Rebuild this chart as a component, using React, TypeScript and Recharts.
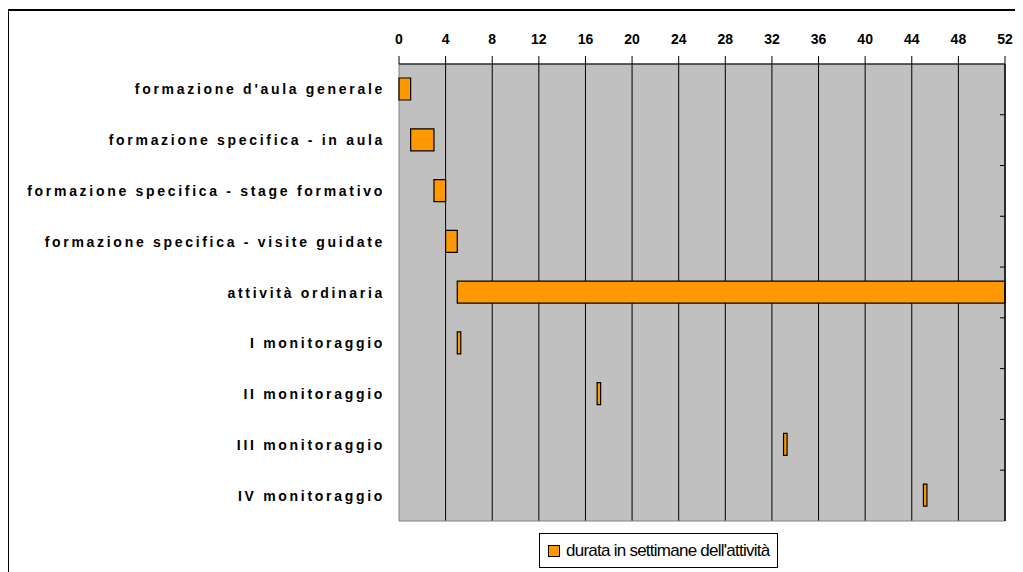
import React from "react";
import {
  BarChart,
  Bar,
  XAxis,
  YAxis,
  CartesianGrid,
  ReferenceLine,
  ReferenceArea,
  Legend,
} from "recharts";

const categories = [
  "formazione d'aula generale",
  "formazione specifica - in aula",
  "formazione specifica - stage formativo",
  "formazione specifica - visite guidate",
  "attività ordinaria",
  "I monitoraggio",
  "II monitoraggio",
  "III monitoraggio",
  "IV monitoraggio",
];

// settimana di inizio e durata (in settimane)
const startWeek = [0, 1, 3, 4, 5, 5, 17, 33, 45];
const durationWeeks = [1, 2, 1, 1, 47, 0.3, 0.3, 0.3, 0.3];

const weekTicks = [0, 4, 8, 12, 16, 20, 24, 28, 32, 36, 40, 44, 48, 52];
const gridWeeks = [4, 8, 12, 16, 20, 24, 28, 32, 36, 40, 44, 48];

const legendLabel = "durata in settimane dell'attività";

const W = 1023;
const H = 572;
const PLOT_LEFT = 399;
const PLOT_RIGHT = 1005;
const PLOT_TOP = 64;
const PLOT_BOTTOM = 520;
const LEGEND_H = 36;
const HALF_BAND = (PLOT_BOTTOM - PLOT_TOP) / categories.length / 2;

const FONT = "'Liberation Sans', Arial, Helvetica, sans-serif";
const ORANGE = "#FF9900";

const data = categories.map((name, i) => ({
  name,
  start: startWeek[i],
  dur: durationWeeks[i],
}));

const CategoryTick = (props: any) => {
  const { x, y, payload, index } = props;
  return (
    <g>
      <text
        x={x}
        y={y}
        textAnchor="end"
        dominantBaseline="central"
        fontFamily={FONT}
        fontWeight="bold"
        fontSize={14}
        letterSpacing={2.7}
        fill="#000"
      >
        {payload.value}
      </text>
      {index < categories.length - 1 && (
        <line
          x1={PLOT_RIGHT - 5}
          x2={PLOT_RIGHT}
          y1={y + HALF_BAND}
          y2={y + HALF_BAND}
          stroke="#000"
        />
      )}
    </g>
  );
};

const renderLegend = () => (
  <div
    style={{
      boxSizing: "border-box",
      width: 239,
      height: 35,
      border: "1px solid #000",
      background: "#fff",
      display: "flex",
      alignItems: "center",
      paddingLeft: 8,
      fontFamily: FONT,
      fontSize: 17,
      letterSpacing: -0.75,
      color: "#000",
      whiteSpace: "nowrap",
    }}
  >
    <span
      style={{
        display: "inline-block",
        flexShrink: 0,
        boxSizing: "border-box",
        width: 12,
        height: 12,
        background: ORANGE,
        border: "1px solid #000",
        marginRight: 6,
      }}
    />
    {legendLabel}
  </div>
);

export default function App() {
  return (
    <div
      style={{
        position: "relative",
        width: W,
        height: H,
        margin: "-8px 0 0 -8px",
        background: "#fff",
        overflow: "hidden",
      }}
    >
      <div
        style={{
          position: "absolute",
          left: 7,
          top: 9,
          width: W,
          height: H,
          borderLeft: "2px solid #000",
          borderTop: "2px solid #000",
        }}
      />
      <div style={{ position: "absolute", left: 0, top: 0 }}>
        <BarChart
          width={W}
          height={H}
          data={data}
          layout="vertical"
          margin={{
            top: 0,
            right: W - PLOT_RIGHT,
            bottom: H - PLOT_BOTTOM - LEGEND_H,
            left: 0,
          }}
          barSize={22}
        >
          <CartesianGrid
            horizontal={false}
            vertical
            verticalValues={gridWeeks}
            stroke="#000"
            fill="#C0C0C0"
            fillOpacity={1}
          />
          <ReferenceArea
            x1={0}
            x2={52}
            fill="none"
            stroke="#808080"
            strokeWidth={1}
            ifOverflow="visible"
          />
          <XAxis
            type="number"
            orientation="top"
            domain={[0, 52]}
            ticks={weekTicks}
            interval={0}
            height={PLOT_TOP}
            tickSize={8}
            tickMargin={12}
            axisLine={{ stroke: "#000" }}
            tickLine={{ stroke: "#000" }}
            tick={{
              fontFamily: FONT,
              fontWeight: "bold",
              fontSize: 14,
              fill: "#000",
            }}
          />
          <YAxis
            type="category"
            dataKey="name"
            width={PLOT_LEFT}
            axisLine={false}
            tickLine={false}
            tickSize={0}
            tickMargin={14}
            interval={0}
            tick={<CategoryTick />}
          />
          <ReferenceLine x={52} stroke="#000" strokeWidth={1.5} />
          <Bar
            dataKey="start"
            stackId="g"
            fill="transparent"
            legendType="none"
            isAnimationActive={false}
          />
          <Bar
            dataKey="dur"
            stackId="g"
            name={legendLabel}
            fill={ORANGE}
            stroke="#000"
            strokeWidth={1.2}
            isAnimationActive={false}
          />
          <Legend
            content={renderLegend}
            wrapperStyle={{
              position: "absolute",
              left: 539,
              top: 533,
              width: 239,
              height: 35,
            }}
          />
        </BarChart>
      </div>
    </div>
  );
}
